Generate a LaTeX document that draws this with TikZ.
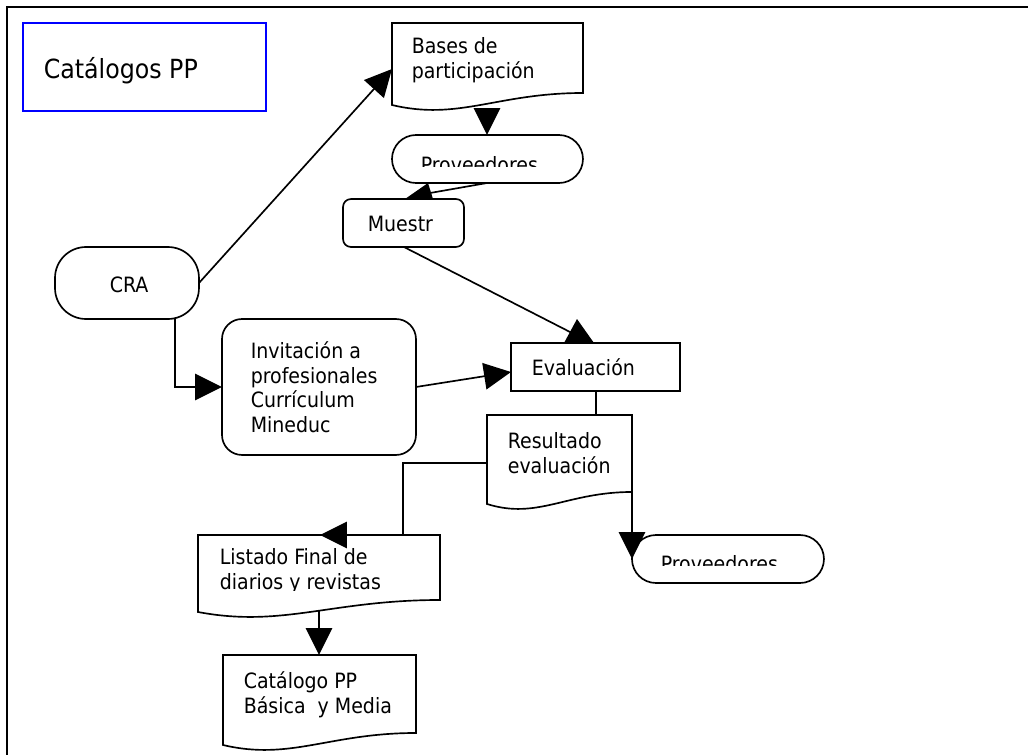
\documentclass[tikz,border=0pt]{standalone}
\usepackage{fontspec}
\setmainfont{DejaVu Sans Condensed}
\usetikzlibrary{arrows.meta,calc}
\newcommand\docpath[1]{%
  \draw (#1.north west) -- (#1.north east) -- (#1.south east)
    .. controls ($(#1.south west)!0.55!(#1.south east)$) and ($(#1.south west)!0.35!(#1.south east)+(0,28)$)
    .. ($(#1.south west)+(0,12)$) -- cycle;}
\begin{document}
\begin{tikzpicture}[x=0.02cm,y=-0.02cm, line width=0.95pt,
  arr/.style={-{Triangle[length=0.54cm,width=0.53cm]}},
  lbl/.style={anchor=base west, inner sep=0pt, font=\fontsize{12}{14}\selectfont},
  box/.style={anchor=north west, inner sep=0pt, outer sep=0pt}]
\useasboundingbox (0,0) rectangle (1028,755);
% frame
\draw[line width=1.2pt] (1028,7) -- (7,7) -- (7,755);
% title
\node[box, draw=blue, line width=0.9pt, minimum width=4.86cm, minimum height=1.76cm] (title) at (23,23) {};
\node[lbl, font=\fontsize{15}{18}\selectfont] (title-t) at (43,78) {Catálogos PP};
% shapes
\node[box, minimum width=3.82cm, minimum height=1.40cm] (bases) at (392,23) {};
\docpath{bases}
\node[box, draw, rounded corners=0.48cm, minimum width=3.82cm, minimum height=0.96cm] (prov1) at (392,135) {};
\node[box, draw, rounded corners=0.16cm, minimum width=2.42cm, minimum height=0.96cm] (muestr) at (343,199) {};
\node[box, draw, rounded corners=0.62cm, minimum width=2.88cm, minimum height=1.44cm] (cra) at (55,247) {};
\node[box, draw, rounded corners=0.4cm, minimum width=3.88cm, minimum height=2.72cm] (invit) at (222,319) {};
\node[box, draw, minimum width=3.38cm, minimum height=0.96cm] (eval) at (511,343) {};
\node[box, minimum width=2.90cm, minimum height=1.54cm] (res) at (487,415) {};
\docpath{res}
\node[box, draw, rounded corners=0.48cm, minimum width=3.84cm, minimum height=0.96cm] (prov2) at (632,535) {};
\node[box, minimum width=4.84cm, minimum height=1.30cm] (list) at (198,535) {};
\docpath{list}
\node[box, minimum width=3.86cm, minimum height=1.56cm] (cat) at (223,655) {};
\docpath{cat}
% texts
\node[lbl] (bases-t1) at (411,53) {Bases de};
\node[lbl] (bases-t2) at (411,78) {participación};
\begin{scope}
  \clip (392,135) rectangle (583,166);
  \node[lbl] (prov1-t) at (420,172) {Proveedores};
\end{scope}
\node[lbl] (muestr-t) at (367,231) {Muestr};
\node[lbl] (cra-t) at (109,292) {CRA};
\node[lbl] (invit-t1) at (250,358) {Invitación a};
\node[lbl] (invit-t2) at (250,383) {profesionales};
\node[lbl] (invit-t3) at (250,407) {Currículum};
\node[lbl] (invit-t4) at (250,432) {Mineduc};
\node[lbl] (eval-t) at (531,375) {Evaluación};
\node[lbl] (res-t1) at (507,448) {Resultado};
\node[lbl] (res-t2) at (507,473) {evaluación};
\begin{scope}
  \clip (632,535) rectangle (824,565);
  \node[lbl] (prov2-t) at (660,571) {Proveedores};
\end{scope}
\node[lbl] (list-t1) at (219,564) {Listado Final de};
\begin{scope}
  \clip (198,560) rectangle (440,590);
  \node[lbl] (list-t2) at (219,589) {diarios y revistas};
\end{scope}
\node[lbl] (cat-t1) at (243,688) {Catálogo PP};
\node[lbl] (cat-t2) at (243,713) {Básica\ \ y Media};
% connectors
\coordinate (bases-in) at ($(bases.north west)+(0,46)$);
\draw[arr] (cra.east) -- (bases-in);
\coordinate (bases-out) at (487,108);
\draw[arr] (bases-out) -- (bases-out |- prov1.north);
\coordinate (pm-a) at (487,183);
\coordinate (pm-b) at (430,193);
\draw (pm-a) -- (pm-b);
\fill (405,199) -- (433,199) -- (428,183) -- cycle;
\coordinate (me-a) at (404,247);
\coordinate (me-b) at (572,333);
\draw (me-a) -- (me-b);
\fill (564,343) -- (594,343) -- (577,319) -- cycle;
\coordinate (cra-out) at (175,319);
\draw[arr] (cra-out) |- (invit.west);
\draw[arr] (invit.east) -- ($(eval.west)+(0,5)$);
\coordinate (ev-out) at (596,391);
\draw (ev-out) -- (ev-out |- res.north);
\coordinate (res-l) at (487,463);
\coordinate (res-k) at (403,535);
\draw[arr] (res-l) -| (res-k) -- (320,535);
\draw[arr] (res.south east) -- (prov2.west);
\coordinate (list-out) at (319,611);
\draw[arr] (list-out) -- (list-out |- cat.north);
\end{tikzpicture}
\end{document}
